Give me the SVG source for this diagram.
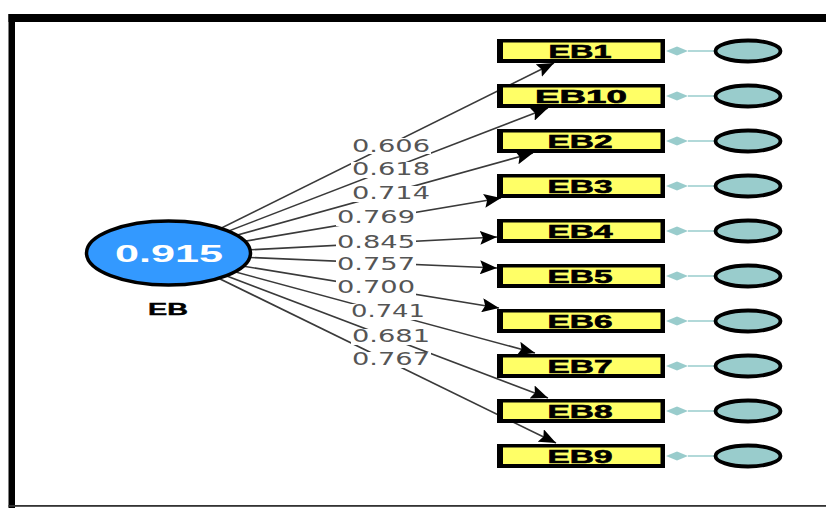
<svg xmlns="http://www.w3.org/2000/svg" width="826" height="508" viewBox="0 0 826 508">
  <style>
    .frame { fill: #000; }
    .path { stroke: #3a3a3a; stroke-width: 1.6; fill: none; }
    .lblbg { fill: #fff; }
    .lbl { font-family: "DejaVu Sans", "Liberation Sans", sans-serif; font-size: 17px; fill: #555; text-anchor: middle; }
    .ind-outer { fill: #000; }
    .ind-inner { fill: #ffff66; }
    .ind-text { font-family: "Liberation Sans", Arial, sans-serif; font-weight: bold; font-size: 19px; fill: #000; stroke: #000; stroke-width: 0.6; text-anchor: middle; }
    .err { fill: #99cccc; stroke: #000; stroke-width: 3.8; }
    .err-link { stroke: #99cccc; stroke-width: 1.5; }
    .err-dia { fill: #99cccc; }
    .lat { fill: #3399ff; stroke: #000; stroke-width: 3.5; }
    .lat-val { font-family: "Liberation Sans", Arial, sans-serif; font-weight: bold; font-size: 23px; fill: #fff; text-anchor: middle; }
    .lat-name { font-family: "Liberation Sans", Arial, sans-serif; font-weight: bold; font-size: 16px; fill: #000; stroke: #000; stroke-width: 0.4; text-anchor: middle; }
  </style>
  <defs>
    <marker id="arr" markerUnits="userSpaceOnUse" markerWidth="18" markerHeight="14" refX="17" refY="7" orient="auto">
      <path d="M0,0 L17,7 L0,14 L3,7 Z" fill="#000"/>
    </marker>
  </defs>

  <rect width="826" height="508" fill="#fff"/>

  <!-- frame -->
  <g id="frame">
    <rect class="frame" x="8.5" y="14" width="6.5" height="494"/>
    <rect class="frame" x="8.5" y="14" width="817.5" height="8"/>
    <rect x="8.5" y="505" width="817.5" height="1.8" fill="#333"/>
  </g>

  <!-- loading paths from EB to its indicators -->
  <g id="connectors">
    <line class="path" x1="169" y1="254" x2="554" y2="63" marker-end="url(#arr)"/>
    <line class="path" x1="169" y1="254" x2="548" y2="108" marker-end="url(#arr)"/>
    <line class="path" x1="169" y1="254" x2="533" y2="153" marker-end="url(#arr)"/>
    <line class="path" x1="169" y1="254" x2="501" y2="198" marker-end="url(#arr)"/>
    <line class="path" x1="169" y1="254" x2="497" y2="237" marker-end="url(#arr)"/>
    <line class="path" x1="169" y1="254" x2="497" y2="268" marker-end="url(#arr)"/>
    <line class="path" x1="169" y1="254" x2="499" y2="308" marker-end="url(#arr)"/>
    <line class="path" x1="169" y1="254" x2="535" y2="353" marker-end="url(#arr)"/>
    <line class="path" x1="169" y1="254" x2="548" y2="398" marker-end="url(#arr)"/>
    <line class="path" x1="169" y1="254" x2="556" y2="443" marker-end="url(#arr)"/>

    <!-- loading labels -->
    <rect class="lblbg" x="351" y="138" width="80" height="16"/>
    <text class="lbl" x="391" y="152" textLength="78" lengthAdjust="spacingAndGlyphs">0.606</text>
    <rect class="lblbg" x="351" y="162" width="80" height="16"/>
    <text class="lbl" x="391" y="175" textLength="78" lengthAdjust="spacingAndGlyphs">0.618</text>
    <rect class="lblbg" x="351" y="186" width="80" height="16"/>
    <text class="lbl" x="391" y="199" textLength="78" lengthAdjust="spacingAndGlyphs">0.714</text>
    <rect class="lblbg" x="336" y="210" width="80" height="16"/>
    <text class="lbl" x="376" y="223" textLength="78" lengthAdjust="spacingAndGlyphs">0.769</text>
    <rect class="lblbg" x="336" y="235" width="80" height="16"/>
    <text class="lbl" x="376" y="248" textLength="78" lengthAdjust="spacingAndGlyphs">0.845</text>
    <rect class="lblbg" x="336" y="257" width="80" height="16"/>
    <text class="lbl" x="376" y="270" textLength="78" lengthAdjust="spacingAndGlyphs">0.757</text>
    <rect class="lblbg" x="336" y="280" width="80" height="16"/>
    <text class="lbl" x="376" y="293" textLength="78" lengthAdjust="spacingAndGlyphs">0.700</text>
    <rect class="lblbg" x="348" y="304" width="80" height="16"/>
    <text class="lbl" x="388" y="317" textLength="74" lengthAdjust="spacingAndGlyphs">0.741</text>
    <rect class="lblbg" x="351" y="329" width="80" height="16"/>
    <text class="lbl" x="391" y="342" textLength="78" lengthAdjust="spacingAndGlyphs">0.681</text>
    <rect class="lblbg" x="351" y="352" width="80" height="16"/>
    <text class="lbl" x="391" y="365" textLength="78" lengthAdjust="spacingAndGlyphs">0.767</text>

    <!-- error terms -->
    <g id="err-links">
      <line class="err-link" x1="688" y1="51" x2="716" y2="51"/>
      <path class="err-dia" d="M666,51 L677,46.5 L688,51 L677,55.5 Z"/>
      <line class="err-link" x1="688" y1="96" x2="716" y2="96"/>
      <path class="err-dia" d="M666,96 L677,91.5 L688,96 L677,100.5 Z"/>
      <line class="err-link" x1="688" y1="141" x2="716" y2="141"/>
      <path class="err-dia" d="M666,141 L677,136.5 L688,141 L677,145.5 Z"/>
      <line class="err-link" x1="688" y1="186" x2="716" y2="186"/>
      <path class="err-dia" d="M666,186 L677,181.5 L688,186 L677,190.5 Z"/>
      <line class="err-link" x1="688" y1="231" x2="716" y2="231"/>
      <path class="err-dia" d="M666,231 L677,226.5 L688,231 L677,235.5 Z"/>
      <line class="err-link" x1="688" y1="276" x2="716" y2="276"/>
      <path class="err-dia" d="M666,276 L677,271.5 L688,276 L677,280.5 Z"/>
      <line class="err-link" x1="688" y1="321" x2="716" y2="321"/>
      <path class="err-dia" d="M666,321 L677,316.5 L688,321 L677,325.5 Z"/>
      <line class="err-link" x1="688" y1="366" x2="716" y2="366"/>
      <path class="err-dia" d="M666,366 L677,361.5 L688,366 L677,370.5 Z"/>
      <line class="err-link" x1="688" y1="411" x2="716" y2="411"/>
      <path class="err-dia" d="M666,411 L677,406.5 L688,411 L677,415.5 Z"/>
      <line class="err-link" x1="688" y1="456" x2="716" y2="456"/>
      <path class="err-dia" d="M666,456 L677,451.5 L688,456 L677,460.5 Z"/>
    </g>
  </g>

  <!-- latent construct -->
  <g id="node-EB">
    <ellipse class="lat" cx="168.5" cy="253" rx="82" ry="32"/>
    <text class="lat-val" x="169" y="262" textLength="108" lengthAdjust="spacingAndGlyphs">0.915</text>
    <text class="lat-name" x="168" y="315" textLength="40" lengthAdjust="spacingAndGlyphs">EB</text>
  </g>

  <!-- indicators -->
  <g id="node-EB1">
    <rect class="ind-outer" x="497" y="39" width="168" height="24"/>
    <rect class="ind-inner" x="503" y="42.5" width="157.5" height="16.5"/>
    <text class="ind-text" x="580" y="58" textLength="63" lengthAdjust="spacingAndGlyphs">EB1</text>
  </g>
  <g id="node-EB10">
    <rect class="ind-outer" x="497" y="84" width="168" height="24"/>
    <rect class="ind-inner" x="503" y="87.5" width="157.5" height="16.5"/>
    <text class="ind-text" x="581" y="103" textLength="92" lengthAdjust="spacingAndGlyphs">EB10</text>
  </g>
  <g id="node-EB2">
    <rect class="ind-outer" x="497" y="129" width="168" height="24"/>
    <rect class="ind-inner" x="503" y="132.5" width="157.5" height="16.5"/>
    <text class="ind-text" x="580" y="148" textLength="65" lengthAdjust="spacingAndGlyphs">EB2</text>
  </g>
  <g id="node-EB3">
    <rect class="ind-outer" x="497" y="174" width="168" height="24"/>
    <rect class="ind-inner" x="503" y="177.5" width="157.5" height="16.5"/>
    <text class="ind-text" x="580" y="193" textLength="65" lengthAdjust="spacingAndGlyphs">EB3</text>
  </g>
  <g id="node-EB4">
    <rect class="ind-outer" x="497" y="219" width="168" height="24"/>
    <rect class="ind-inner" x="503" y="222.5" width="157.5" height="16.5"/>
    <text class="ind-text" x="580" y="238" textLength="65" lengthAdjust="spacingAndGlyphs">EB4</text>
  </g>
  <g id="node-EB5">
    <rect class="ind-outer" x="497" y="264" width="168" height="24"/>
    <rect class="ind-inner" x="503" y="267.5" width="157.5" height="16.5"/>
    <text class="ind-text" x="580" y="283" textLength="65" lengthAdjust="spacingAndGlyphs">EB5</text>
  </g>
  <g id="node-EB6">
    <rect class="ind-outer" x="497" y="309" width="168" height="24"/>
    <rect class="ind-inner" x="503" y="312.5" width="157.5" height="16.5"/>
    <text class="ind-text" x="580" y="328" textLength="65" lengthAdjust="spacingAndGlyphs">EB6</text>
  </g>
  <g id="node-EB7">
    <rect class="ind-outer" x="497" y="354" width="168" height="24"/>
    <rect class="ind-inner" x="503" y="357.5" width="157.5" height="16.5"/>
    <text class="ind-text" x="580" y="373" textLength="65" lengthAdjust="spacingAndGlyphs">EB7</text>
  </g>
  <g id="node-EB8">
    <rect class="ind-outer" x="497" y="399" width="168" height="24"/>
    <rect class="ind-inner" x="503" y="402.5" width="157.5" height="16.5"/>
    <text class="ind-text" x="580" y="418" textLength="65" lengthAdjust="spacingAndGlyphs">EB8</text>
  </g>
  <g id="node-EB9">
    <rect class="ind-outer" x="497" y="444" width="168" height="24"/>
    <rect class="ind-inner" x="503" y="447.5" width="157.5" height="16.5"/>
    <text class="ind-text" x="580" y="463" textLength="65" lengthAdjust="spacingAndGlyphs">EB9</text>
  </g>

  <!-- residual error ellipses -->
  <g id="node-e1"><ellipse class="err" cx="748" cy="51" rx="32.5" ry="10.5"/></g>
  <g id="node-e10"><ellipse class="err" cx="748" cy="96" rx="32.5" ry="10.5"/></g>
  <g id="node-e2"><ellipse class="err" cx="748" cy="141" rx="32.5" ry="10.5"/></g>
  <g id="node-e3"><ellipse class="err" cx="748" cy="186" rx="32.5" ry="10.5"/></g>
  <g id="node-e4"><ellipse class="err" cx="748" cy="231" rx="32.5" ry="10.5"/></g>
  <g id="node-e5"><ellipse class="err" cx="748" cy="276" rx="32.5" ry="10.5"/></g>
  <g id="node-e6"><ellipse class="err" cx="748" cy="321" rx="32.5" ry="10.5"/></g>
  <g id="node-e7"><ellipse class="err" cx="748" cy="366" rx="32.5" ry="10.5"/></g>
  <g id="node-e8"><ellipse class="err" cx="748" cy="411" rx="32.5" ry="10.5"/></g>
  <g id="node-e9"><ellipse class="err" cx="748" cy="456" rx="32.5" ry="10.5"/></g>
</svg>
